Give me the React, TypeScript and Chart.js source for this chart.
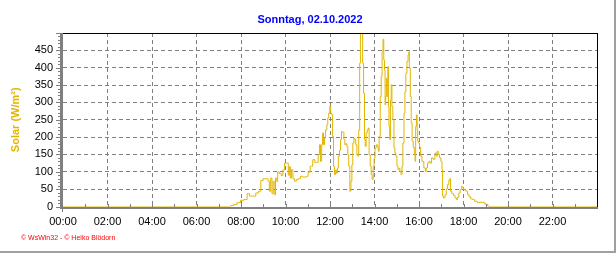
import React, { useEffect, useRef } from "react";
import { Chart, registerables } from "chart.js";

Chart.register(...registerables);

const chartTitle = "Sonntag, 02.10.2022";
const yAxisTitle = "Solar (W/m²)";
const creditText = "© WsWin32 - © Heiko Blödorn";

// x ticks in minutes of the day (labels at every 2 hours)
const xTickMinutes = [0, 120, 240, 360, 480, 600, 720, 840, 960, 1080, 1200, 1320, 1440];
const yTickValues = [0, 50, 100, 150, 200, 250, 300, 350, 400, 450, 500];

// readings: minute of the day and solar radiation in W/m²
const solarMinutes = [
  0, 450, 456, 465, 474, 483, 492, 501, 505, 517, 523, 532, 535, 544, 551, 555, 558, 562, 565, 568,
  571, 575, 578, 580, 586, 591, 595, 600, 606, 609, 612, 614, 618, 622, 627, 631, 638, 643, 649, 656,
  659, 663, 670, 677, 681, 686, 690, 693, 696, 699, 701, 704, 706, 710, 713, 715, 718, 721, 723, 726,
  728, 731, 733, 736, 739, 741, 744, 747, 750, 752, 756, 759, 761, 764, 767, 769, 772, 775, 778, 780,
  783, 786, 788, 791, 794, 796, 799, 801, 803, 807, 809, 812, 814, 816, 819, 822, 824, 827, 830, 832,
  835, 838, 840, 843, 846, 849, 851, 854, 857, 859, 862, 864, 866, 868, 869, 871, 873, 875, 877, 878,
  880, 882, 884, 886, 888, 891, 894, 896, 899, 902, 905, 907, 910, 913, 915, 918, 921, 923, 926, 929,
  932, 933, 935, 938, 940, 943, 946, 949, 950, 952, 954, 956, 957, 960, 963, 966, 970, 976, 978, 981,
  985, 988, 992, 996, 1001, 1005, 1008, 1010, 1014, 1017, 1021, 1023, 1024, 1028, 1032, 1035, 1039, 1042, 1044, 1046,
  1051, 1055, 1059, 1062, 1066, 1069, 1073, 1077, 1079, 1082, 1086, 1089, 1093, 1097, 1102, 1107, 1113, 1120, 1134, 1138,
  1143, 1148, 1150, 1440,
];
const solarValues = [
  0, 0, 3, 6, 11, 18, 20, 37, 30, 30, 39, 44, 75, 80, 80, 73, 44, 82, 37, 73,
  34, 82, 72, 100, 95, 89, 106, 125, 125, 90, 115, 82, 106, 80, 73, 78, 80, 87, 85, 85,
  87, 99, 116, 135, 127, 127, 149, 178, 130, 178, 212, 178, 197, 221, 236, 255, 269, 290, 269, 265,
  202, 116, 92, 105, 96, 111, 145, 162, 193, 216, 214, 193, 178, 181, 173, 149, 116, 44, 73, 120,
  183, 197, 193, 178, 149, 145, 221, 413, 510, 510, 413, 327, 193, 173, 212, 221, 226, 149, 116, 92,
  78, 116, 140, 168, 178, 173, 159, 202, 317, 375, 446, 482, 422, 393, 293, 317, 370, 317, 403, 288,
  231, 193, 307, 351, 288, 250, 169, 154, 145, 116, 106, 110, 101, 92, 116, 183, 269, 331, 384, 418,
  437, 446, 399, 317, 240, 188, 170, 149, 130, 231, 264, 221, 188, 183, 171, 145, 130, 111, 101, 111,
  125, 130, 125, 140, 136, 154, 145, 159, 150, 140, 130, 106, 30, 25, 34, 51, 63, 76, 80, 44,
  37, 32, 25, 20, 27, 39, 49, 58, 55, 49, 47, 44, 34, 28, 22, 20, 15, 12, 12, 8,
  6, 1, 0, 0,
];

const FONT = "'Liberation Sans', Arial, sans-serif";
const GOLD = "rgb(226,182,0)";

const fmtTime = (m: number) =>
  `${String(Math.floor(m / 60)).padStart(2, "0")}:${String(m % 60).padStart(2, "0")}`;

const decorPlugin = {
  id: "decor",
  beforeDraw(chart: any) {
    const ctx = chart.ctx;
    ctx.save();
    ctx.fillStyle = "#ffffff";
    ctx.fillRect(0, 0, chart.width, chart.height);
    ctx.restore();
  },
  afterDraw(chart: any) {
    const ctx = chart.ctx;
    const { left, right, top, bottom } = chart.chartArea;
    const xs = chart.scales.x;
    const ys = chart.scales.y;
    const axisY = Math.ceil(bottom);
    ctx.save();
    // plot frame (top / right black)
    ctx.fillStyle = "#000000";
    ctx.fillRect(left, top, right - left + 1, 1);
    ctx.fillRect(right, top, 1, bottom - top + 1);
    // thick gray axes
    ctx.fillStyle = "#808080";
    ctx.fillRect(left - 3, top, 3, axisY - top + 2);
    ctx.fillRect(left - 3, axisY, right - left + 4, 2);
    // y minor/major ticks
    for (let v = 0; v <= 500; v += 10) {
      const y = Math.round(ys.getPixelForValue(v));
      if (v % 50 === 0) ctx.fillRect(left - 7, y, 4, 1);
      else ctx.fillRect(left - 5, y, 2, 1);
    }
    // x hourly ticks above axis
    for (let h = 1; h < 24; h++) {
      const x = Math.round(xs.getPixelForValue(h * 60));
      ctx.fillRect(x, axisY - 3, 1, 3);
    }
    ctx.fillRect(left - 1, axisY + 2, 1, 3);

    // title
    ctx.fillStyle = "#0000ff";
    ctx.font = `bold 11px ${FONT}`;
    ctx.textAlign = "center";
    ctx.textBaseline = "alphabetic";
    ctx.fillText(chartTitle, 310, 22.5);

    // y axis title
    ctx.save();
    ctx.translate(19, (top + bottom) / 2);
    ctx.rotate(-Math.PI / 2);
    ctx.fillStyle = GOLD;
    ctx.font = `bold 11px ${FONT}`;
    ctx.textAlign = "center";
    ctx.fillText(yAxisTitle, 0, 0);
    ctx.restore();

    // credit
    ctx.fillStyle = "#ff0000";
    ctx.font = `7px ${FONT}`;
    ctx.textAlign = "left";
    ctx.fillText(creditText, 21, 240);

    // outer gray frame
    ctx.fillStyle = "#a0a0a0";
    ctx.fillRect(614, 0, 2, chart.height);
    ctx.fillRect(0, 251, chart.width, 2);
    ctx.restore();
  },
};

export default function App() {
  const ref = useRef<HTMLCanvasElement | null>(null);

  useEffect(() => {
    document.body.style.margin = "0";
    const canvas = ref.current;
    if (!canvas) return;
    const points = solarMinutes.map((m, i) => ({ x: m, y: solarValues[i] }));
    const hiddenAt = (val: number, a: number, b: number) => val === a || val === b;

    const chart = new Chart(canvas, {
      type: "line",
      data: {
        datasets: [
          {
            data: points,
            borderColor: GOLD,
            borderWidth: 1,
            pointRadius: 0,
            stepped: "middle",
            fill: false,
          },
        ],
      },
      options: {
        responsive: false,
        animation: false,
        devicePixelRatio: 1,
        layout: { padding: { left: 0, top: 33, right: 19, bottom: 0 } },
        plugins: {
          legend: { display: false },
          tooltip: { enabled: false },
          title: { display: false },
        },
        scales: {
          x: {
            type: "linear",
            min: 0,
            max: 1440,
            afterFit: (s: any) => {
              s.height = 46.5;
            },
            afterBuildTicks: (s: any) => {
              s.ticks = xTickMinutes.map((v) => ({ value: v }));
            },
            ticks: {
              autoSkip: false,
              maxRotation: 0,
              padding: 9,
              color: "#000000",
              font: { family: FONT, size: 11 },
              callback: (v: any) => (Number(v) === 1440 ? "" : fmtTime(Number(v))),
            },
            grid: {
              drawTicks: false,
              lineWidth: 1,
              color: (c: any) =>
                c.tick && hiddenAt(c.tick.value, 0, 1440) ? "rgba(0,0,0,0)" : "#808080",
              borderDash: [4, 3],
            },
            border: { display: false, dash: [4, 3] },
          },
          y: {
            type: "linear",
            min: 0,
            max: 500,
            afterFit: (s: any) => {
              s.width = 63;
            },
            afterBuildTicks: (s: any) => {
              s.ticks = yTickValues.map((v) => ({ value: v }));
            },
            ticks: {
              autoSkip: false,
              padding: 10,
              color: "#000000",
              font: { family: FONT, size: 11 },
              callback: (v: any) => (Number(v) === 500 ? "" : String(v)),
            },
            grid: {
              drawTicks: false,
              lineWidth: 1,
              color: (c: any) =>
                c.tick && hiddenAt(c.tick.value, 0, 500) ? "rgba(0,0,0,0)" : "#808080",
              borderDash: [4, 3],
            },
            border: { display: false, dash: [4, 3] },
          },
        },
      },
      plugins: [decorPlugin],
    } as any);

    return () => chart.destroy();
  }, []);

  return (
    <canvas
      ref={ref}
      width={616}
      height={253}
      style={{ display: "block", width: 616, height: 253 }}
    />
  );
}
